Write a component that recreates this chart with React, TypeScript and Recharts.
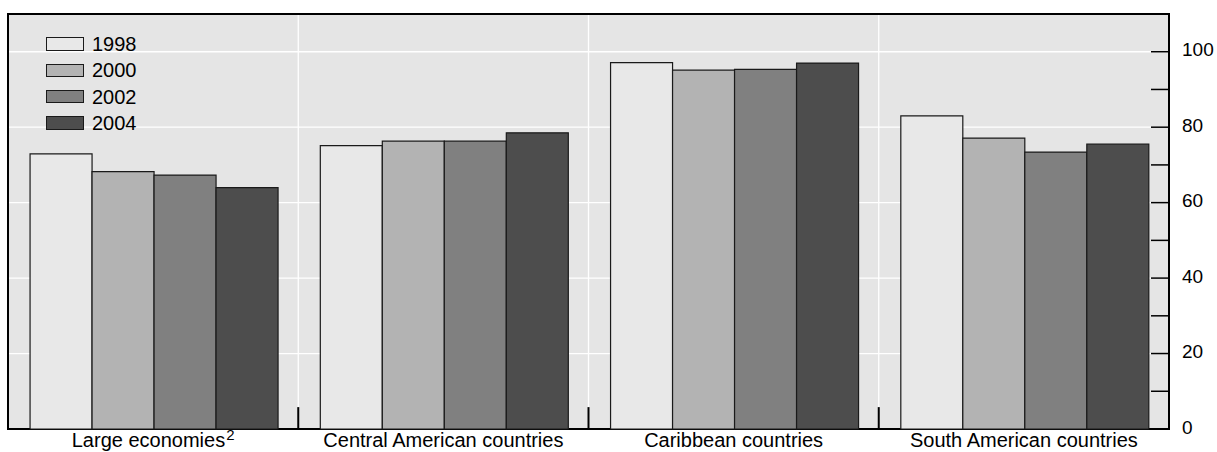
import React from "react";
import {
  BarChart,
  Bar,
  XAxis,
  YAxis,
  CartesianGrid,
  ReferenceLine,
  ReferenceArea,
  Legend,
} from "recharts";

const categories = [
  "Large economies",
  "Central American countries",
  "Caribbean countries",
  "South American countries",
];
const superscripts = ["2", "", "", ""];
const years = ["1998", "2000", "2002", "2004"];
const v1998 = [72.9, 75.1, 97.1, 83.0];
const v2000 = [68.2, 76.3, 95.1, 77.1];
const v2002 = [67.3, 76.3, 95.3, 73.4];
const v2004 = [64.0, 78.5, 97.0, 75.5];
const yTicks = [0, 10, 20, 30, 40, 50, 60, 70, 80, 90, 100];
const yLabels = [0, 20, 40, 60, 80, 100];
const gridValues = [20, 40, 60, 80, 100];
const boundaries = [1, 2, 3];

const seriesValues = [v1998, v2000, v2002, v2004];
const colors = ["#e8e8e8", "#b3b3b3", "#808080", "#4d4d4d"];

const data = categories.map((c, i) => {
  const row: Record<string, any> = { name: c, pos: i + 0.5 };
  years.forEach((y, k) => {
    row["y" + y] = seriesValues[k][i];
  });
  return row;
});

const FONT = "'Liberation Sans', Arial, Helvetica, sans-serif";
const LABEL_GAP = 13;
const TICK_LEN = 18;

const RightTick = (props: any) => {
  const { x, y, payload } = props;
  const edge = x - LABEL_GAP;
  const v = payload.value;
  return (
    <g>
      <line x1={edge - TICK_LEN} x2={edge} y1={y} y2={y} stroke="#000" strokeWidth={1.5} />
      {yLabels.includes(v) && (
        <text x={x} y={y} dy={4.5} fontSize={19} fontFamily={FONT} fill="#000" textAnchor="start">
          {v}
        </text>
      )}
    </g>
  );
};

const LeftTick = (props: any) => {
  const { x, y } = props;
  return <line x1={x} x2={x + TICK_LEN + 1} y1={y} y2={y} stroke="#000" strokeWidth={1.5} />;
};

const XTick = (props: any) => {
  const { x, y, payload, index } = props;
  const sup = superscripts[index] || "";
  return (
    <text x={x} y={y} dy={18} fontSize={20} fontFamily={FONT} fill="#000" textAnchor="middle">
      {payload.value}
      {sup && (
        <tspan fontSize={15} dx={1} dy={-7}>
          {sup}
        </tspan>
      )}
    </text>
  );
};

const LegendContent = () => (
  <div style={{ fontFamily: FONT }}>
    {years.map((y, k) => (
      <div key={y} style={{ display: "flex", alignItems: "center", height: 26.4 }}>
        <div
          style={{
            width: 38,
            height: 13.4,
            boxSizing: "border-box",
            border: "1.2px solid #1a1a1a",
            background: colors[k],
            marginRight: 8,
          }}
        />
        <span style={{ fontSize: 20, lineHeight: "20px", color: "#000" }}>{y}</span>
      </div>
    ))}
  </div>
);

export default function App() {
  return (
    <div style={{ position: "absolute", left: 0, top: 0, width: 1217, height: 452 }}>
      <BarChart
        width={1217}
        height={452}
        data={data}
        margin={{ top: 14, right: 0, bottom: 0, left: 8 }}
        barCategoryGap="7.6%"
        barGap={0}
      >
        <CartesianGrid
          fill="#e5e5e5"
          stroke="#ffffff"
          strokeWidth={1.3}
          xAxisId="num"
          horizontalValues={gridValues}
          verticalValues={boundaries}
        />
        <XAxis
          dataKey="name"
          height={23}
          tickLine={false}
          axisLine={false}
          tickSize={0}
          tickMargin={0}
          interval={0}
          tick={<XTick />}
        />
        <XAxis
          xAxisId="num"
          dataKey="pos"
          type="number"
          domain={[0, 4]}
          allowDataOverflow
          hide
        />
        <YAxis
          orientation="right"
          width={48}
          domain={[0, 110]}
          ticks={yTicks}
          interval={0}
          tickLine={false}
          axisLine={false}
          tickSize={0}
          tickMargin={LABEL_GAP}
          tick={<RightTick />}
        />
        <YAxis
          yAxisId="L"
          orientation="left"
          width={0}
          domain={[0, 110]}
          ticks={yTicks}
          interval={0}
          tickLine={false}
          axisLine={false}
          tickSize={0}
          tickMargin={0}
          tick={<LeftTick />}
        />
        {years.map((y, k) => (
          <Bar
            key={y}
            dataKey={"y" + y}
            name={y}
            fill={colors[k]}
            stroke="#1a1a1a"
            strokeWidth={1.2}
            isAnimationActive={false}
          />
        ))}
        {boundaries.map((b) => (
          <ReferenceLine
            key={b}
            xAxisId="num"
            segment={[
              { x: b, y: 0 },
              { x: b, y: 5.8 },
            ]}
            stroke="#000"
            strokeWidth={2}
          />
        ))}
        <ReferenceArea
          xAxisId="num"
          x1={0}
          x2={4}
          y1={0}
          y2={110}
          fill="none"
          fillOpacity={0}
          stroke="#000"
          strokeWidth={2}
          ifOverflow="visible"
        />
        <Legend
          layout="vertical"
          align="center"
          verticalAlign="middle"
          wrapperStyle={{ left: 46, top: 30.8, width: "auto" }}
          content={<LegendContent />}
        />
      </BarChart>
    </div>
  );
}
